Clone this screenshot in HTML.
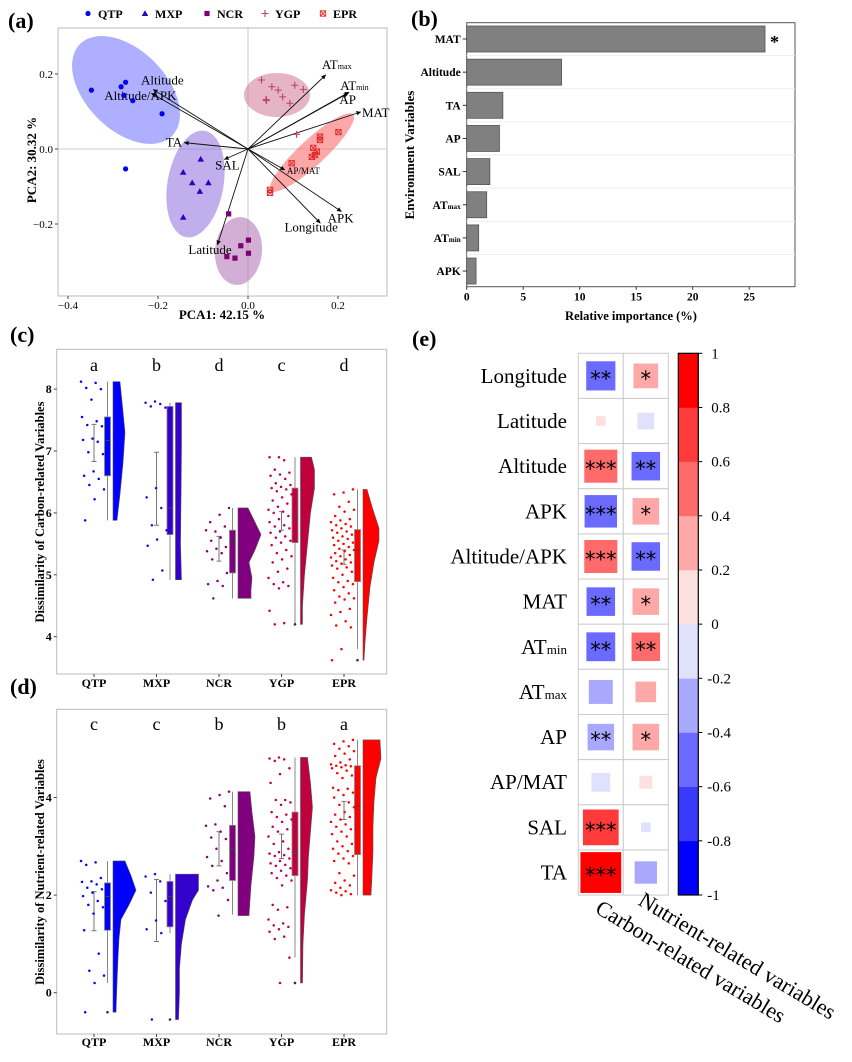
<!DOCTYPE html>
<html><head><meta charset="utf-8"><style>
html,body{margin:0;padding:0;background:#fff}
svg{display:block;font-family:"Liberation Serif",serif}
.b{font-weight:bold}
</style></head><body>
<svg id="fig" width="852" height="1062" viewBox="0 0 852 1062" xmlns="http://www.w3.org/2000/svg">
<g id="pa"></g>
<g id="pb"></g>
<g id="pc"></g>
<g id="pd"></g>
<g id="pe"></g>
</svg>
<script>
// ---------- Panel (a) data ----------
const pcaGroups = ['QTP','MXP','NCR','YGP','EPR'];
const qtpX = [-0.348,-0.282,-0.272,-0.276,-0.256,-0.191,-0.272];
const qtpY = [0.157,0.166,0.178,0.143,0.129,0.094,-0.053];
const mxpX = [-0.105,-0.144,-0.124,-0.088,-0.107,-0.144];
const mxpY = [-0.027,-0.062,-0.090,-0.090,-0.113,-0.182];
const ncrX = [-0.043,-0.016,0.001,0.001,-0.047,-0.029];
const ncrY = [-0.173,-0.258,-0.243,-0.278,-0.287,-0.291];
const ygpX = [0.030,0.053,0.067,0.104,0.123,0.077,0.040,0.041,0.093,0.108];
const ygpY = [0.184,0.166,0.157,0.170,0.159,0.139,0.132,0.129,0.122,0.039];
const eprX = [0.201,0.160,0.160,0.145,0.153,0.149,0.142,0.097,0.049,0.049];
const eprY = [0.045,0.033,0.024,0.003,-0.007,-0.016,-0.021,-0.038,-0.109,-0.117];
const vecNames = ['Altitude','Altitude/APK','TA','SAL','Latitude','AP/MAT','Longitude','APK','MAT','AP','ATmin','ATmax'];
const vecX = [-0.211,-0.215,-0.142,-0.053,-0.068,0.082,0.161,0.208,0.251,0.223,0.225,0.173];
const vecY = [0.159,0.149,0.017,-0.028,-0.256,-0.056,-0.198,-0.167,0.099,0.149,0.152,0.198];
const pcaTicksX = [-0.4,-0.2,0.0,0.2];
const pcaTicksY = [0.2,0.0,-0.2];
// ---------- Panel (b) data ----------
const impNames = ['MAT','Altitude','TA','AP','SAL','ATmax','ATmin','APK'];
const impValues = [26.4,8.4,3.2,2.9,2.05,1.77,1.06,0.83];
const impTicks = [0,5,10,15,20,25];
// ---------- Panel (c)/(d) data ----------
const rcCats = ['QTP','MXP','NCR','YGP','EPR'];
const cLetters = ['a','b','d','c','d'];
const dLetters = ['c','c','b','b','a'];
const cTicks = [4,5,6,7,8];
const dTicks = [0,2,4];
const cPts = [
 [8.12,8.1,8.02,8.0,7.83,7.55,7.48,7.42,7.4,7.2,7.18,7.15,6.98,6.95,6.67,6.6,6.55,6.45,6.38,6.22,5.88],
 [7.8,7.78,7.76,7.72,7.7,6.4,6.25,6.08,5.8,5.72,5.57,5.47,5.07,4.92],
 [6.08,5.97,5.85,5.78,5.7,5.72,5.6,5.55,5.45,5.42,5.38,5.35,5.25,5.03,4.9,4.85,4.82,4.62],
 [6.9,6.9,6.85,6.7,6.65,6.62,6.6,6.55,6.48,6.45,6.42,6.4,6.38,6.35,6.3,6.25,6.2,6.15,6.1,6.05,6.02,6.0,5.95,5.9,5.85,5.8,5.78,5.75,5.7,5.68,5.62,5.6,5.55,5.52,5.48,5.4,5.35,5.3,5.25,5.2,5.1,5.05,4.95,4.88,4.85,4.82,4.78,4.42,4.22,4.2],
 [6.38,6.33,6.3,6.18,6.1,6.05,6.02,5.95,5.9,5.88,5.85,5.82,5.8,5.78,5.75,5.72,5.7,5.68,5.65,5.62,5.6,5.58,5.55,5.52,5.5,5.48,5.45,5.42,5.4,5.38,5.35,5.32,5.3,5.28,5.25,5.22,5.2,5.18,5.15,5.12,5.1,5.05,5.0,4.95,4.9,4.88,4.85,4.8,4.75,4.7,4.65,4.62,4.6,4.55,4.45,4.4,4.35,4.25,4.18,4.15,3.8,3.62]
];
const dPts = [
 [2.7,2.67,2.62,2.35,2.28,2.27,2.22,2.15,2.12,2.05,1.98,1.88,1.8,1.75,1.62,1.28,0.8,0.45,0.35,0.2,-0.4],
 [2.43,2.38,2.28,2.05,1.88,1.48,1.3,1.22,-0.55],
 [4.12,4.05,3.98,3.82,3.45,3.42,3.3,3.18,3.15,2.95,2.78,2.7,2.6,2.45,2.3,2.18,2.15,2.1,1.9,1.58],
 [4.82,4.8,4.78,4.75,4.6,4.48,4.3,3.95,3.95,3.9,3.85,3.7,3.65,3.6,3.55,3.5,3.4,3.35,3.3,3.2,3.1,3.05,2.95,2.88,2.85,2.82,2.8,2.75,2.7,2.65,2.62,2.6,2.55,2.5,2.45,2.4,2.35,2.3,2.2,1.8,1.75,1.7,1.5,1.42,1.38,1.35,1.3,1.25,1.15,1.1,0.72,0.2],
 [5.18,5.15,5.1,5.05,5.0,4.95,4.9,4.85,4.78,4.72,4.68,4.66,4.65,4.64,4.62,4.6,4.55,4.5,4.45,4.4,4.2,4.18,4.15,4.1,4.05,4.0,3.9,3.85,3.8,3.7,3.65,3.6,3.55,3.5,3.45,3.4,3.35,3.3,3.25,3.2,3.1,3.05,3.0,2.95,2.9,2.85,2.8,2.75,2.7,2.65,2.45,2.4,2.3,2.25,2.2,2.15,2.1,2.08,2.05,2.02,2.0]
];
// box stats: [whiskerLow, q1, median, q3, whiskerHigh]
const cBox = [[5.88,6.6,7.17,7.55,8.12],[4.92,5.65,6.08,7.72,7.78],[4.62,5.03,5.55,5.72,6.08],[4.2,5.52,5.93,6.4,6.9],[3.8,4.89,5.4,5.73,6.38]];
const dBox = [[0.2,1.28,1.97,2.25,2.7],[1.22,1.35,1.97,2.28,2.43],[1.6,2.3,2.95,3.43,4.12],[0.72,2.4,2.87,3.7,4.82],[2.0,2.83,3.83,4.65,5.18]];
const cOut = [[],[],[],[4.2],[3.62]];
const dOut = [[-0.4],[-0.55],[],[0.2],[]];
// error bars: [low, high]
const cErr = [[6.83,7.43],[5.8,6.98],[5.22,5.62],[5.72,6.02],[5.17,5.4]];
const dErr = [[1.27,2.07],[1.05,2.32],[2.6,3.3],[2.75,3.25],[3.55,3.92]];
// violin densities: [value, relative density]
const cDens = [
 [[8.12,7],[7.8,9],[7.3,12],[6.8,10],[6.3,7],[5.88,4]],
 [[7.78,6],[7.0,6],[6.2,5.5],[5.5,5],[4.92,6]],
 [[6.08,10],[5.85,17],[5.65,23],[5.4,17],[5.2,11],[4.95,14],[4.75,13],[4.62,13]],
 [[6.9,11],[6.7,14],[6.4,14],[6.0,10],[5.5,7],[5.0,4],[4.5,2],[4.2,2]],
 [[6.38,4],[6.1,9],[5.75,16],[5.55,16],[5.2,11],[4.8,7],[4.3,4],[3.9,2],[3.62,1]]
];
const dDens = [
 [[2.7,12],[2.4,18],[2.1,23],[1.8,16],[1.5,8],[1.1,6],[0.7,5],[0.2,4],[-0.4,3]],
 [[2.43,23],[2.1,23],[1.9,17],[1.5,10],[1.0,6],[0.5,4],[0,4],[-0.55,3]],
 [[4.12,12],[3.7,14],[3.2,17],[2.8,16],[2.2,13],[1.58,11]],
 [[4.82,7],[4.3,10],[3.8,12],[3.3,10],[2.8,8],[2.3,7],[1.6,4],[1.0,2.5],[0.2,2]],
 [[5.18,17],[4.8,18],[4.4,13],[3.9,11],[3.4,10],[2.9,10],[2.4,9],[2.0,8]]
];
// ---------- Panel (e) data ----------
const corrRows = ['Longitude','Latitude','Altitude','APK','Altitude/APK','MAT','ATmin','ATmax','AP','AP/MAT','SAL','TA'];
const corrCols = ['Carbon-related variables','Nutrient-related variables'];
const corrCarbon = [-0.46,0.05,0.59,-0.57,0.59,-0.44,-0.45,-0.31,-0.38,-0.19,0.69,0.9];
const corrNutrient = [0.33,-0.15,-0.44,0.38,-0.44,0.38,0.44,0.23,0.38,0.09,-0.05,-0.27];
const sigCarbon = ['**','','***','***','***','**','**','','**','','***','***'];
const sigNutrient = ['*','','**','*','**','*','**','','*','','',''];
const cbTicks = [1,0.8,0.6,0.4,0.2,0,-0.2,-0.4,-0.6,-0.8,-1];

const NS='http://www.w3.org/2000/svg';
function mk(parent,tag,attrs,text){const e=document.createElementNS(NS,tag);for(const k in attrs)e.setAttribute(k,attrs[k]);if(text!==undefined)e.textContent=text;parent.appendChild(e);return e;}
function subLabel(parent,name,x,y,size,anchor,bold){
  const t=mk(parent,'text',{x:x,y:y,'font-size':size,'text-anchor':anchor||'start','font-weight':bold?'bold':'normal'});
  const m=name.match(/^AT(min|max)$/);
  if(m){mk(t,'tspan',{},'AT');mk(t,'tspan',{'font-size':size*0.62},m[1]);}else t.textContent=name;
  return t;
}
const grpCol=['#0000ff','#3300cc','#800080','#c0003c','#ff0000'];

// ================= Panel (a) =================
(function(){
const g=document.getElementById('pa');
const X=v=>248+v*450, Y=v=>149-v*375;
const L=58,R=387,T=28,B=296;
let t=mk(g,'text',{x:8,y:28,'font-size':22,'font-weight':'bold'},'(a)');


let r=mk(g,'rect',{x:L,y:T,width:R-L,height:B-T,fill:'#fff',stroke:'#bbb','stroke-width':1});


mk(g,'line',{x1:X(0),x2:X(0),y1:T,y2:B,stroke:'#ccc'});
mk(g,'line',{x1:L,x2:R,y1:Y(0),y2:Y(0),stroke:'#ccc'});
const ells=[[126,90,65,40,45,'rgba(110,110,255,0.55)'],[195.5,184,28,54,10,'rgba(140,110,220,0.55)'],[238.5,251,23.5,34,5,'rgba(175,110,180,0.55)'],[277,95,33,22,0,'rgba(210,120,150,0.55)'],[312,152.5,56,13,-42.8,'rgba(250,110,110,0.6)']];
ells.forEach((e,i)=>{const el=mk(g,'ellipse',{cx:e[0],cy:e[1],rx:e[2],ry:e[3],transform:`rotate(${e[4]} ${e[0]} ${e[1]})`,fill:e[5]});

});
const defs=mk(g,'defs',{});const mkr=mk(defs,'marker',{id:'ah',markerWidth:6,markerHeight:6,refX:5,refY:3,orient:'auto'});mk(mkr,'path',{d:'M0,0.5 L5,3 L0,5.5 z',fill:'#000'});
const labOff={'Altitude':[-12,-5,'start'],'Altitude/APK':[-47,7,'start'],'TA':[-2,4,'end'],'SAL':[-9,10,'start'],'Latitude':[-29,9,'start'],'AP/MAT':[2,4,'start'],'Longitude':[-36,8,'start'],'APK':[-14,11,'start'],'MAT':[1,5,'start'],'AP':[-9,11,'start'],'ATmin':[-9,-2,'start'],'ATmax':[-4,-6,'start']};
vecNames.forEach((n,i)=>{const l=mk(g,'line',{x1:X(0),y1:Y(0),x2:X(vecX[i]),y2:Y(vecY[i]),stroke:'#111','stroke-width':0.9,'marker-end':'url(#ah)'});


const o=labOff[n];const s=n==='AP/MAT'?9:13;
const tl=subLabel(g,n,X(vecX[i])+o[0],Y(vecY[i])+o[1],s,o[2]);

});
function marker(p,type,x,y,c){
 if(type===0)return mk(p,'circle',{cx:x,cy:y,r:2.6,fill:c});
 if(type===1)return mk(p,'path',{d:`M${x},${y-3.3}L${x+3.3},${y+2.5}L${x-3.3},${y+2.5}z`,fill:c});
 if(type===2)return mk(p,'rect',{x:x-2.6,y:y-2.6,width:5.2,height:5.2,fill:c});
 if(type===3)return mk(p,'path',{d:`M${x-3.5},${y}H${x+3.5}M${x},${y-3.5}V${y+3.5}`,stroke:c,'stroke-width':1.1,fill:'none'});
 return mk(p,'path',{d:`M${x-2.7},${y-2.7}h5.4v5.4h-5.4zM${x-2.7},${y-2.7}l5.4,5.4M${x+2.7},${y-2.7}l-5.4,5.4`,stroke:c,'stroke-width':0.9,fill:'none'});
}
const gx=[qtpX,mxpX,ncrX,ygpX,eprX],gy=[qtpY,mxpY,ncrY,ygpY,eprY];
const pc=['#0000ee','#3300bb','#800070','#c04068','#e02828'];
gx.forEach((xs,k)=>xs.forEach((v,i)=>{const m=marker(g,k,X(v),Y(gy[k][i]),pc[k]);

}));
pcaTicksX.forEach(v=>{mk(g,'line',{x1:X(v),x2:X(v),y1:B,y2:B+3,stroke:'#444'});const tt=mk(g,'text',{x:X(v),y:B+13,'font-size':11,'text-anchor':'middle'},v.toFixed(1).replace('-','\u2212'));

});
pcaTicksY.forEach(v=>{mk(g,'line',{x1:L-3,x2:L,y1:Y(v),y2:Y(v),stroke:'#444'});const tt=mk(g,'text',{x:L-5,y:Y(v)+4,'font-size':11,'text-anchor':'end'},v.toFixed(1).replace('-','\u2212'));

});
t=mk(g,'text',{x:222,y:319,'font-size':13,'font-weight':'bold','text-anchor':'middle'},'PCA1: 42.15 %');


t=mk(g,'text',{x:0,y:0,'font-size':13,'font-weight':'bold','text-anchor':'middle',transform:'translate(36,160) rotate(-90)'},'PCA2: 30.32 %');


const lx=[88,145,207,265,323];
pcaGroups.forEach((n,k)=>{const lg=mk(g,'g',{});


marker(lg,k,lx[k],13.5,pc[k]);mk(lg,'text',{x:lx[k]+10,y:18,'font-size':12,'font-weight':'bold'},n);});
})();

// ================= Panel (b) =================
(function(){
const g=document.getElementById('pb');
const L=466.7,R=795,T=22.7,B=286.7;
const X=v=>L+v*11.3;
const rowY=i=>39+i*33.15;
let t=mk(g,'text',{x:411,y:26,'font-size':22,'font-weight':'bold'},'(b)');


let r=mk(g,'rect',{x:L,y:T,width:R-L,height:B-T,fill:'#fff',stroke:'#555','stroke-width':1});


impNames.forEach((n,i)=>{
 if(i>0)mk(g,'line',{x1:L,x2:R,y1:rowY(i)-16.6,y2:rowY(i)-16.6,stroke:'#eee'});
 const b=mk(g,'rect',{x:L,y:rowY(i)-13,width:X(impValues[i])-L,height:26,fill:'#808080',stroke:'#555','stroke-width':0.8});
 
 
 mk(g,'line',{x1:L-4,x2:L,y1:rowY(i),y2:rowY(i),stroke:'#333'});
 const tl=subLabel(g,n,L-6,rowY(i)+4,11.5,'end',true);
 
 
});
t=mk(g,'text',{x:X(impValues[0])+5,y:rowY(0)+9,'font-size':18,'font-weight':'bold'},'*');


impTicks.forEach(v=>{mk(g,'line',{x1:X(v),x2:X(v),y1:B,y2:B+3,stroke:'#333'});const tt=mk(g,'text',{x:X(v),y:B+14,'font-size':11.5,'font-weight':'bold','text-anchor':'middle'},v);

});
t=mk(g,'text',{x:631,y:320,'font-size':12.5,'font-weight':'bold','text-anchor':'middle'},'Relative importance (%)');


t=mk(g,'text',{x:0,y:0,'font-size':13,'font-weight':'bold','text-anchor':'middle',transform:'translate(414,155) rotate(-90)'},'Environment Variables');


})();

// ================= Panels (c),(d) =================
function raincloud(gid,label,labelY,T,B,y0,ppu,ticks,letters,letterY,pts,box,outl,err,dens,title,titleY,xlabY){
const g=document.getElementById(gid);
const L=56.7,R=386.7;
const Y=v=>y0-(v-ticks[0])*ppu;
const cx=i=>94+i*62.5;
let t=mk(g,'text',{x:10,y:labelY,'font-size':22,'font-weight':'bold'},label);


let r=mk(g,'rect',{x:L,y:T,width:R-L,height:B-T,fill:'#fff',stroke:'#bbb','stroke-width':1});


ticks.forEach(v=>{mk(g,'line',{x1:L-3,x2:L,y1:Y(v),y2:Y(v),stroke:'#444'});const tt=mk(g,'text',{x:L-5,y:Y(v)+4,'font-size':12,'font-weight':'bold','text-anchor':'end'},v);

});
t=mk(g,'text',{x:0,y:0,'font-size':12.5,'font-weight':'bold','text-anchor':'middle',transform:`translate(44,${titleY}) rotate(-90)`},title);


rcCats.forEach((n,i)=>{
 const c=cx(i),col=grpCol[i];
 const tl=mk(g,'text',{x:c,y:xlabY,'font-size':12,'font-weight':'bold','text-anchor':'middle'},n);
 
 
 mk(g,'line',{x1:c,x2:c,y1:B,y2:B+3,stroke:'#444'});
 const lt=mk(g,'text',{x:c,y:letterY,'font-size':18,'text-anchor':'middle'},letters[i]);
 
 
 const x0=c+19;const d=dens[i];
 let p=`M${x0},${Y(d[0][0])}`;d.forEach(q=>{p+=`L${x0+q[1]},${Y(q[0])}`;});p+=`L${x0},${Y(d[d.length-1][0])}Z`;
 const vp=mk(g,'path',{d:p,fill:col,stroke:'#555','stroke-width':0.6,'stroke-linejoin':'round'});
 
 
 const bx=c+13.5,bb=box[i];
 mk(g,'line',{x1:bx,x2:bx,y1:Y(bb[0]),y2:Y(bb[4]),stroke:'#888','stroke-width':1});
 const br=mk(g,'rect',{x:bx-3,y:Y(bb[3]),width:6,height:Y(bb[1])-Y(bb[3]),fill:col,stroke:'#888','stroke-width':0.8});
 
 
 mk(g,'line',{x1:bx-3,x2:bx+3,y1:Y(bb[2]),y2:Y(bb[2]),stroke:'#444','stroke-width':1});
 outl[i].forEach(v=>mk(g,'circle',{cx:bx,cy:Y(v),r:1.3,fill:'#333'}));
 const e=err[i];
 const eb=mk(g,'path',{d:`M${c},${Y(e[0])}V${Y(e[1])}M${c-2.5},${Y(e[0])}h5M${c-2.5},${Y(e[1])}h5`,stroke:'#777','stroke-width':1,fill:'none'});
 
 
 pts[i].forEach((v,j)=>{const jx=c-13+((j*37+i*11)%23)/22*23;
  const pt=mk(g,'circle',{cx:jx,cy:Y(v),r:1.25,fill:col});
  
  });
});
}
raincloud('pc','(c)',342,349.3,674,636.7,61.9,cTicks,cLetters,371,cPts,cBox,cOut,cErr,cDens,'Dissimilarity of Carbon-related Variables',512,687);
raincloud('pd','(d)',694,709.3,1034,992.7,48.8,dTicks,dLetters,730,dPts,dBox,dOut,dErr,dDens,'Dissimilarity of Nutrient-related Variables',872,1046);

// ================= Panel (e) =================
(function(){
const g=document.getElementById('pe');
const L=578.3,T=353.3,cw=45,rh=45.15;
const bins=['#0000ff','#3a3aff','#6a6aff','#a8a8ff','#e0e0ff','#ffe0e0','#ffa8a8','#ff6a6a','#ff3a3a','#ff0000'];
const colOf=v=>bins[Math.max(0,Math.min(9,Math.floor((v+1)/0.2)))];
let t=mk(g,'text',{x:412,y:346,'font-size':22,'font-weight':'bold'},'(e)');


const vals=[corrCarbon,corrNutrient],sigs=[sigCarbon,sigNutrient];
corrRows.forEach((n,i)=>{
 const cy=T+i*rh+rh/2;
 const rl=subLabel(g,n,567,cy+7,21,'end');
 
 
 [0,1].forEach(k=>{
  const cxx=L+k*cw+cw/2;
  mk(g,'rect',{x:L+k*cw,y:T+i*rh,width:cw,height:rh,fill:'#fff',stroke:'#ccc','stroke-width':1});
  const v=vals[k][i];const s=Math.sqrt(Math.abs(v))*(cw-2);
  const sq=mk(g,'rect',{x:cxx-s/2,y:cy-s/2,width:s,height:s,fill:colOf(v)});
  
  
  if(sigs[k][i]){const st=mk(g,'text',{x:cxx,y:cy+10,'font-size':21,'text-anchor':'middle','font-family':'"DejaVu Sans",sans-serif'},sigs[k][i]);
   
   }
 });
});
const cbx=678.3,cbT=353.3,cbB=895,cbW=20;const bh=(cbB-cbT)/10;
bins.forEach((c,j)=>{mk(g,'rect',{x:cbx,y:cbB-(j+1)*bh,width:cbW,height:bh+0.3,fill:c});});
const cb=mk(g,'rect',{x:cbx,y:cbT,width:cbW,height:cbB-cbT,fill:'none',stroke:'#000','stroke-width':1.2});


cbTicks.forEach(v=>{const y=cbB-(v+1)/2*(cbB-cbT);mk(g,'line',{x1:cbx+cbW,x2:cbx+cbW+4,y1:y,y2:y,stroke:'#000'});
 const tt=mk(g,'text',{x:cbx+cbW+(v<0?9:13),y:y+5,'font-size':15},String(v));
 
 });
t=mk(g,'text',{x:0,y:0,'font-size':22,transform:'translate(594,912) rotate(31)'},corrCols[0]);


t=mk(g,'text',{x:0,y:0,'font-size':22,transform:'translate(637,904) rotate(31)'},corrCols[1]);


})();
</script>
</body></html>
